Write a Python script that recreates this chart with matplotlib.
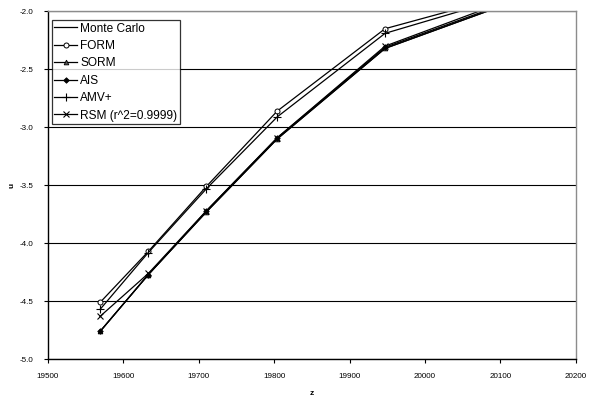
import matplotlib
matplotlib.use("Agg")
import matplotlib.pyplot as plt

plt.rcParams['font.family'] = ['Liberation Sans', 'DejaVu Sans']

# Response level z and standard normal quantile u for each method
z = [19569, 19633, 19710, 19804, 19947, 20150]
monte_carlo = [-4.76, -4.27, -3.73, -3.10, -2.32, -1.84]
form = [-4.51, -4.07, -3.51, -2.86, -2.15, -1.79]
sorm = [-4.76, -4.27, -3.73, -3.10, -2.32, -1.84]
ais = [-4.76, -4.27, -3.72, -3.09, -2.31, -1.83]
amv_plus = [-4.57, -4.08, -3.53, -2.91, -2.19, -1.80]
rsm = [-4.63, -4.26, -3.72, -3.09, -2.30, -1.81]

series_names = ["Monte Carlo", "FORM", "SORM", "AIS", "AMV+", "RSM (r^2=0.9999)"]
x_ticks = [19500, 19600, 19700, 19800, 19900, 20000, 20100, 20200]
y_ticks = [-5.0, -4.5, -4.0, -3.5, -3.0, -2.5, -2.0]

fig = plt.figure(figsize=(5.9, 3.98), dpi=100)
ax = fig.add_axes([0.0814, 0.0972, 0.8946, 0.8744])

lw = 0.9
ax.plot(z, monte_carlo, color='black', lw=lw, label=series_names[0])
ax.plot(z, form, color='black', lw=lw, marker='o', ms=3.6, mfc='white',
        mec='black', mew=0.7, label=series_names[1])
ax.plot(z, sorm, color='black', lw=lw, marker='^', ms=3.4, mfc='#555555',
        mec='black', mew=0.6, label=series_names[2])
ax.plot(z, ais, color='black', lw=lw, marker='D', ms=2.8, mfc='black',
        mec='black', mew=0.6, label=series_names[3])
ax.plot(z, amv_plus, color='black', lw=lw, marker='+', ms=6, mew=0.8,
        label=series_names[4])
ax.plot(z, rsm, color='black', lw=lw, marker='x', ms=5, mew=0.8,
        label=series_names[5])

ax.set_xlim(19500, 20200)
ax.set_ylim(-5.0, -2.0)
ax.set_xticks(x_ticks)
ax.set_xticklabels([str(v) for v in x_ticks])
ax.set_yticks(y_ticks)
ax.set_yticklabels([f"{v:.1f}" for v in y_ticks])
ax.yaxis.grid(True, color='black', lw=0.8)
ax.set_axisbelow(True)

ax.tick_params(axis='both', direction='out', length=3, width=0.8,
               labelsize=5.8)
ax.tick_params(axis='x', pad=7)
ax.tick_params(axis='y', pad=7.3)
for side in ('left', 'bottom'):
    ax.spines[side].set_color('black')
    ax.spines[side].set_linewidth(1.0)
for side in ('top', 'right'):
    ax.spines[side].set_color('#8c8c8c')
    ax.spines[side].set_linewidth(1.0)

ax.set_xlabel('z', fontsize=6, fontweight='bold', labelpad=7)
ax.set_ylabel('u', fontsize=6, fontweight='bold', labelpad=3)

leg = ax.legend(loc='upper left', bbox_to_anchor=(0.007, 0.975), fontsize=8.6,
                frameon=True, fancybox=False, edgecolor='black',
                handlelength=1.9, handletextpad=0.25, borderpad=0.22,
                labelspacing=0.45, borderaxespad=0.0)
leg.get_frame().set_linewidth(0.9)

fig.savefig('out.png', dpi=100)
